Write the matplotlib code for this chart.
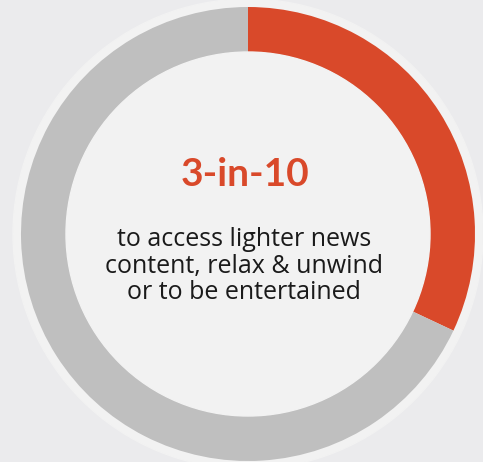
import matplotlib.pyplot as plt
from matplotlib.patches import Circle

# share of respondents
segments = ['lighter news / relax / entertained', 'other']
shares = [32, 68]
colors = ['#d9492a', '#bfbfbf']
headline = '3-in-10'
caption = 'to access lighter news\ncontent, relax & unwind\nor to be entertained'

W, H = 483, 462
fig = plt.figure(figsize=(W / 100, H / 100), dpi=100)
fig.patch.set_facecolor('#ebebed')
ax = fig.add_axes([0, 0, 1, 1])

cx, cy = 248, H - 234
r_out, ring = 227, 45

# light halo behind the ring
ax.add_patch(Circle((cx, cy), r_out + 8, color='#f2f2f2', zorder=0))

ax.pie(shares, colors=colors, startangle=90, counterclock=False,
       center=(cx, cy), radius=r_out, frame=True,
       wedgeprops=dict(width=ring, linewidth=0))
ax.set_xlim(0, W)
ax.set_ylim(0, H)
ax.set_aspect('equal')
ax.axis('off')

ax.add_patch(Circle((cx, cy), r_out - ring, color='#f2f2f2', zorder=3))

ax.text(cx - 3, H - 174, headline, ha='center', va='center', fontsize=28,
        fontweight='bold', color=colors[0], family='Lato', zorder=4)
ax.text(cx - 4, H - 266, caption, ha='center', va='center', fontsize=18,
        color='#1a1a1a', family='Open Sans', linespacing=1.07, zorder=4)

fig.savefig('out.png', dpi=100, facecolor=fig.get_facecolor())
